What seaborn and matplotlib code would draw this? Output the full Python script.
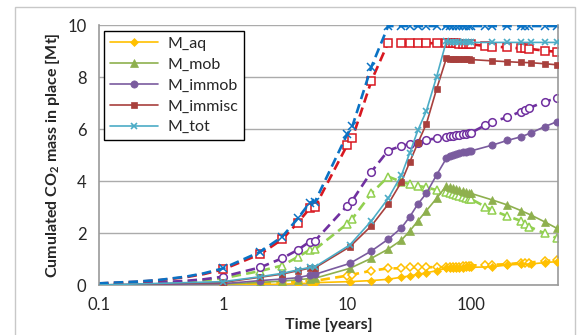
import matplotlib
matplotlib.use("Agg")
import matplotlib.pyplot as plt
from matplotlib.patches import Rectangle
from matplotlib.ticker import LogLocator, NullFormatter
import seaborn as sns

# ---------------- data ----------------
# Solid lines (filled markers)
t_solid = [0.1, 1, 2, 3, 4, 5, 5.5, 10.5, 15.7, 21.4, 27.4, 32, 37.2, 43.5, 52.5,
           63, 67, 71, 75, 80, 85, 90, 95, 100, 148, 195, 252, 303, 390, 490]
aq_solid = [0.0, 0.0, 0.02, 0.03, 0.05, 0.07, 0.09, 0.13, 0.17, 0.22, 0.30, 0.35, 0.41, 0.47, 0.55,
            0.64, 0.65, 0.66, 0.66, 0.67, 0.67, 0.68, 0.68, 0.68, 0.70, 0.77, 0.80, 0.81, 0.86, 0.90]
mob_solid = [0.0, 0.03, 0.10, 0.15, 0.20, 0.25, 0.26, 0.64, 1.03, 1.38, 1.73, 2.08, 2.47, 2.86, 3.33,
             3.82, 3.76, 3.72, 3.68, 3.64, 3.61, 3.58, 3.55, 3.52, 3.27, 3.08, 2.86, 2.69, 2.43, 2.18]
immob_solid = [0.0, 0.05, 0.17, 0.23, 0.28, 0.38, 0.41, 0.83, 1.31, 1.76, 2.20, 2.63, 3.12, 3.53, 4.23,
               4.87, 4.95, 5.00, 5.04, 5.07, 5.10, 5.12, 5.14, 5.16, 5.38, 5.56, 5.70, 5.85, 6.09, 6.28]
immisc_solid = [0.0, 0.10, 0.30, 0.42, 0.55, 0.65, 0.66, 1.47, 2.28, 3.11, 3.97, 4.74, 5.47, 6.20, 7.53,
                8.72, 8.71, 8.70, 8.70, 8.69, 8.69, 8.68, 8.68, 8.67, 8.62, 8.59, 8.56, 8.55, 8.51, 8.47]
tot_solid = [0.0, 0.13, 0.32, 0.45, 0.58, 0.68, 0.70, 1.54, 2.47, 3.33, 4.23, 5.09, 5.96, 6.70, 8.00,
             9.38, 9.36, 9.35, 9.35, 9.34, 9.34, 9.34, 9.33, 9.33, 9.33, 9.33, 9.33, 9.33, 9.33, 9.33]

# Dashed lines (open markers)
t_dash = [0.1, 0.2, 0.3, 0.5, 0.7, 1, 2, 3, 4, 5, 5.5, 10, 11, 15.7, 21.4, 27.4, 32, 37.2, 43.5, 52.5,
          63, 67, 71, 75, 80, 85, 90, 95, 100, 130, 148, 195, 250, 270, 290, 390, 490]
aq_dash = [0.01, 0.01, 0.02, 0.03, 0.04, 0.06, 0.08, 0.10, 0.13, 0.15, 0.16, 0.36, 0.40, 0.55, 0.64,
           0.64, 0.68, 0.68, 0.68, 0.69, 0.68, 0.69, 0.70, 0.70, 0.71, 0.72, 0.73, 0.74, 0.75,
           0.77, 0.78, 0.80, 0.85, 0.84, 0.86, 0.92, 0.96]
mob_dash = [0.02, 0.05, 0.08, 0.13, 0.18, 0.26, 0.54, 0.75, 1.08, 1.35, 1.37, 2.35, 2.55, 3.53, 4.17,
            3.97, 3.87, 3.81, 3.76, 3.65, 3.57, 3.53, 3.49, 3.45, 3.41, 3.38, 3.35, 3.32, 3.30,
            3.01, 2.88, 2.65, 2.47, 2.35, 2.25, 1.99, 1.80]
immob_dash = [0.03, 0.06, 0.10, 0.16, 0.22, 0.32, 0.68, 1.03, 1.35, 1.67, 1.70, 3.05, 3.25, 4.36, 5.17,
              5.35, 5.42, 5.47, 5.58, 5.64, 5.70, 5.72, 5.74, 5.76, 5.78, 5.80, 5.82, 5.84, 5.86,
              6.15, 6.28, 6.45, 6.67, 6.73, 6.80, 7.05, 7.18]
immisc_dash = [0.06, 0.12, 0.18, 0.30, 0.42, 0.60, 1.19, 1.76, 2.40, 2.95, 3.00, 5.38, 5.64, 7.86, 9.32,
               9.31, 9.31, 9.30, 9.30, 9.30, 9.30, 9.29, 9.29, 9.29, 9.28, 9.28, 9.27, 9.27, 9.26,
               9.19, 9.17, 9.14, 9.10, 9.10, 9.09, 9.01, 8.97]
tot_dash = [0.064, 0.13, 0.19, 0.32, 0.45, 0.64, 1.28, 1.86, 2.56, 3.17, 3.20, 5.80, 6.10, 8.40, 9.96,
            9.96, 9.96, 9.96, 9.96, 9.96, 9.96, 9.96, 9.96, 9.96, 9.96, 9.96, 9.96, 9.96, 9.96,
            9.96, 9.96, 9.96, 9.96, 9.96, 9.96, 9.96, 9.96]

names = ["M_aq", "M_mob", "M_immob", "M_immisc", "M_tot"]
solid_series = [aq_solid, mob_solid, immob_solid, immisc_solid, tot_solid]
dash_series = [aq_dash, mob_dash, immob_dash, immisc_dash, tot_dash]
x_tick_vals = [0.1, 1, 10, 100]
x_tick_labels = ["0.1", "1", "10", "100"]
y_tick_vals = [0, 2, 4, 6, 8, 10]

# ---------------- style ----------------
solid_colors = ["#FFC000", "#8EB04E", "#7A5B9E", "#A8403D", "#4BACC6"]
dash_colors = ["#FFC000", "#92D050", "#7030A0", "#D81820", "#0A72C4"]
markers = ["D", "^", "o", "s", "x"]
solid_ms = [4.0, 5.2, 5.2, 5.0, 5.0]
dash_ms = [4.2, 5.5, 5.5, 5.3, 5.5]

sns.set_style("white")
plt.rcParams["font.family"] = ["Lato", "DejaVu Sans"]
plt.rcParams["mathtext.fontset"] = "custom"
plt.rcParams["mathtext.rm"] = "Lato"
plt.rcParams["mathtext.bf"] = "Lato:bold"

fig = plt.figure(figsize=(5.78, 3.35), dpi=100)
ax = fig.add_axes([99 / 578, 50 / 335, (558 - 99) / 578, (285 - 25) / 335])

# dashed scenario first
for vals, c, m, ms in zip(dash_series, dash_colors, markers, dash_ms):
    sns.lineplot(x=t_dash, y=vals, ax=ax, color=c, linewidth=1.9,
                 linestyle=(0, (3.6, 2.0)), marker=m, markersize=ms,
                 markerfacecolor="white", markeredgecolor=c, markeredgewidth=1.1,
                 markevery=slice(5, None), legend=False, zorder=2)

# solid scenario on top
for vals, c, m, ms, n in zip(solid_series, solid_colors, markers, solid_ms, names):
    sns.lineplot(x=t_solid, y=vals, ax=ax, color=c, linewidth=1.2,
                 marker=m, markersize=ms, markerfacecolor=c, markeredgecolor=c,
                 markeredgewidth=1.2 if m == "x" else 0.5,
                 markevery=slice(1, None), label=n, zorder=3)

ax.set_xscale("log")
ax.set_xlim(0.1, 500)
ax.set_ylim(0, 10)
ax.set_xticks(x_tick_vals, labels=x_tick_labels)
ax.xaxis.set_minor_locator(LogLocator(base=10, subs=range(2, 10), numticks=20))
ax.xaxis.set_minor_formatter(NullFormatter())
ax.set_yticks(y_tick_vals)

ax.grid(axis="y", color="#ABABAB", linewidth=1.0)
ax.grid(axis="x", visible=False)
ax.set_axisbelow(True)
for side in ["left", "bottom", "right"]:
    ax.spines[side].set_color("#9A9A9A")
    ax.spines[side].set_linewidth(1.2)
ax.spines["top"].set_visible(False)
ax.tick_params(axis="both", which="both", direction="out", color="#9A9A9A",
               length=5, width=1.0, labelsize=12, pad=4)

ax.set_xlabel("Time [years]", fontsize=11.5, fontweight="bold", labelpad=3)
ax.set_ylabel(r"Cumulated CO$_{\mathbf{2}}$ mass in place [Mt]", fontsize=11.5,
              fontweight="bold", labelpad=4)

leg = ax.legend(loc="upper left", bbox_to_anchor=(5 / 459, 1 - 6 / 260), fontsize=11.5,
                frameon=True, fancybox=False, edgecolor="black", framealpha=1,
                borderpad=0.35, labelspacing=0.42, handlelength=3.0, handletextpad=0.6,
                borderaxespad=0)
leg.get_frame().set_linewidth(1.0)

fig.patches.append(Rectangle((15 / 578, -0.01), (575 - 15) / 578, 1 - 7 / 335 + 0.01,
                             transform=fig.transFigure, fill=False,
                             edgecolor="#C8C8C8", linewidth=1.0))

fig.savefig("out.png", dpi=100)
